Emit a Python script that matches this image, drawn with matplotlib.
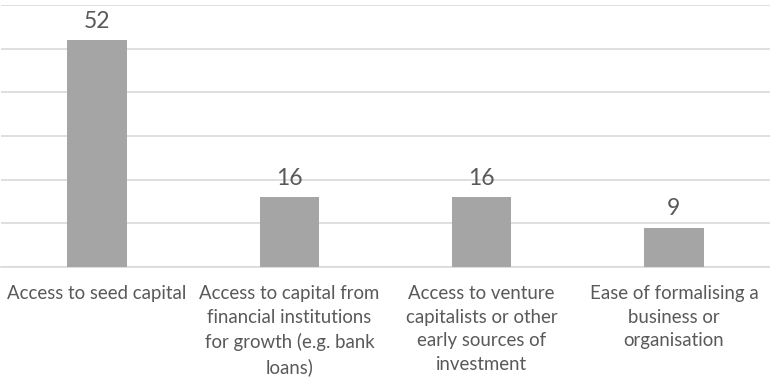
import matplotlib
matplotlib.use("Agg")
import matplotlib.pyplot as plt

categories = [
    "Access to seed capital",
    "Access to capital from\nfinancial institutions\nfor growth (e.g. bank\nloans)",
    "Access to venture\ncapitalists or other\nearly sources of\ninvestment",
    "Ease of formalising a\nbusiness or\norganisation",
]
values = [52, 16, 16, 9]

plt.rcParams['font.family'] = ['Lato', 'DejaVu Sans']
text_color = "#595959"

fig = plt.figure(figsize=(7.7, 3.78), dpi=100)
ax = fig.add_axes([1/770, (378-267)/378, 769/770, 262/378])
x = list(range(len(categories)))
bars = ax.bar(x, values, width=0.31, color="#A5A5A5", zorder=3)
ax.set_xlim(-0.5, len(categories) - 0.5)
ax.set_ylim(0, 60)
ax.set_yticks(range(0, 61, 10))
ax.yaxis.grid(True, color="#D9D9D9", linewidth=1.2, zorder=0)
ax.tick_params(axis='y', left=False, labelleft=False)
ax.set_xticks(x)
ax.set_xticklabels(categories, fontsize=13.4, color=text_color, linespacing=1.47, va='top')
ax.tick_params(axis='x', length=0, pad=13)
for s in ["top", "right", "left"]:
    ax.spines[s].set_visible(False)
ax.spines["bottom"].set_color("#D9D9D9")
ax.spines["bottom"].set_linewidth(1.2)
for xi, v in zip(x, values):
    ax.annotate(str(v), (xi, v), xytext=(0, 6), textcoords="offset points",
                ha="center", va="bottom", fontsize=16.5, color=text_color)

fig.savefig("out.png", dpi=100)
